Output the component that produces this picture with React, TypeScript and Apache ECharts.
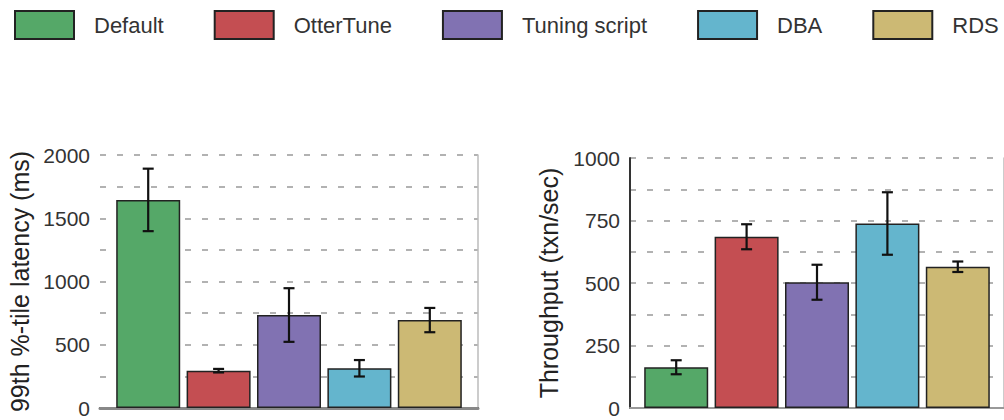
import React, { useEffect, useRef } from "react";
import * as echarts from "echarts";

const CATEGORIES = ["Default", "OtterTune", "Tuning script", "DBA", "RDS"];
const COLORS = ["#55A868", "#C44E52", "#8172B2", "#64B5CD", "#CCB974"];

const LATENCY = [1645, 295, 735, 314, 695];
const LATENCY_ERR = [247, 14, 212, 65, 96];
const LATENCY_TICKS = { min: 0, max: 2000, interval: 500 };

const THROUGHPUT = [163, 685, 503, 738, 565];
const THROUGHPUT_ERR = [28, 50, 70, 125, 21];
const THROUGHPUT_TICKS = { min: 0, max: 1000, interval: 250 };

const BAR_WIDTH = 64;
const BAR_GAP = 0.1; // fraction of bar width
const FONT = "'Liberation Sans', Arial, Helvetica, sans-serif";

function buildGridAxes(gridIndex: number, name: string, ticks: any, nameGap: number, borders: any) {
  const xAxes = [
    {
      type: "category",
      gridIndex,
      data: [""],
      axisLabel: { show: false },
      axisTick: { show: false },
      axisLine: { show: true, lineStyle: { color: borders.bottom, width: 2 } },
      splitLine: { show: false },
    },
    {
      type: "category",
      gridIndex,
      position: "top",
      data: [""],
      axisLabel: { show: false },
      axisTick: { show: false },
      axisLine: { show: true, lineStyle: { color: borders.top, width: borders.topWidth } },
      splitLine: { show: false },
    },
  ];
  const yAxes = [
    {
      type: "value",
      gridIndex,
      min: ticks.min,
      max: ticks.max,
      interval: ticks.interval,
      name,
      nameLocation: "middle",
      nameGap,
      nameTextStyle: { fontSize: 25, color: "#222", fontFamily: FONT },
      axisLabel: {
        fontSize: 21,
        color: "#333",
        margin: 10,
        fontFamily: FONT,
        formatter: (v: number) => String(v),
      },
      axisTick: { show: false },
      axisLine: borders.left
        ? { show: true, lineStyle: { color: borders.left, width: 2 } }
        : { show: false },
      splitLine: { show: true, lineStyle: { color: "#999", width: 1.5, type: [6, 11] } },
      minorTick: { show: false, splitNumber: 2 },
      minorSplitLine: { show: true, lineStyle: { color: "#999", width: 1.5, type: [6, 11] } },
    },
    {
      type: "value",
      gridIndex,
      position: "right",
      min: ticks.min,
      max: ticks.max,
      interval: ticks.interval,
      axisLabel: { show: false },
      axisTick: { show: false },
      axisLine: { show: true, lineStyle: { color: borders.right, width: 1.5 } },
      splitLine: { show: false },
    },
  ];
  return { xAxes, yAxes };
}

function buildSeries(gridIndex: number, values: number[], errs: number[]) {
  const xi = gridIndex * 2;
  const yi = gridIndex * 2;
  const bars = CATEGORIES.map((name, i) => ({
    type: "bar",
    name,
    xAxisIndex: xi,
    yAxisIndex: yi,
    barWidth: BAR_WIDTH,
    barGap: `${BAR_GAP * 100}%`,
    data: [values[i]],
    itemStyle: { color: COLORS[i], borderColor: "#222", borderWidth: 1.5 },
    z: 2,
  }));
  const errData = CATEGORIES.map((_, i) => [0, values[i] - errs[i], values[i] + errs[i], i]);
  const errSeries = {
    type: "custom",
    name: "err" + gridIndex,
    xAxisIndex: xi,
    yAxisIndex: yi,
    encode: { x: 0, y: [1, 2] },
    z: 5,
    silent: true,
    data: errData,
    renderItem: (params: any, api: any) => {
      const lo = api.coord([0, api.value(1)]);
      const hi = api.coord([0, api.value(2)]);
      const idx = api.value(3);
      const pitch = BAR_WIDTH * (1 + BAR_GAP);
      const cx = lo[0] + (idx - (CATEGORIES.length - 1) / 2) * pitch;
      const cap = 5.5;
      const style = { stroke: "#111", lineWidth: 2.2 };
      return {
        type: "group",
        children: [
          { type: "line", shape: { x1: cx, y1: lo[1], x2: cx, y2: hi[1] }, style },
          { type: "line", shape: { x1: cx - cap, y1: lo[1], x2: cx + cap, y2: lo[1] }, style },
          { type: "line", shape: { x1: cx - cap, y1: hi[1], x2: cx + cap, y2: hi[1] }, style },
        ],
      };
    },
  };
  return [...bars, errSeries];
}

export default function App() {
  const ref = useRef<HTMLDivElement>(null);
  useEffect(() => {
    if (!ref.current) return;
    const chart = echarts.init(ref.current, null, { renderer: "svg" });
    const a = buildGridAxes(0, "99th %-tile latency (ms)", LATENCY_TICKS, 68, {
      bottom: "#333",
      top: "#888",
      topWidth: 3,
      left: null,
      right: "#bbb",
    });
    const b = buildGridAxes(1, "Throughput (txn/sec)", THROUGHPUT_TICKS, 69, {
      bottom: "#444",
      top: "#999",
      topWidth: 2,
      left: "#333",
      right: "#bbb",
    });
    chart.setOption({
      animation: false,
      backgroundColor: "#fff",
      textStyle: { fontFamily: FONT },
      legend: {
        data: CATEGORIES,
        left: 14,
        top: 10,
        width: 1100,
        padding: 0,
        itemWidth: 59,
        itemHeight: 28,
        itemGap: 50,
        icon: "rect",
        itemStyle: { borderColor: "#222", borderWidth: 2 },
        textStyle: { fontSize: 22, color: "#333", fontFamily: FONT, padding: [0, 0, 0, 15] },
      },
      grid: [
        { left: 100, top: 155, width: 378, height: 253 },
        { left: 630, top: 158, width: 378, height: 250 },
      ],
      xAxis: [...a.xAxes, ...b.xAxes],
      yAxis: [...a.yAxes, ...b.yAxes],
      series: [...buildSeries(0, LATENCY, LATENCY_ERR), ...buildSeries(1, THROUGHPUT, THROUGHPUT_ERR)],
    });
    return () => chart.dispose();
  }, []);
  return (
    <div
      ref={ref}
      style={{ position: "fixed", left: 0, top: 0, width: 1004, height: 420, background: "#fff" }}
    />
  );
}
